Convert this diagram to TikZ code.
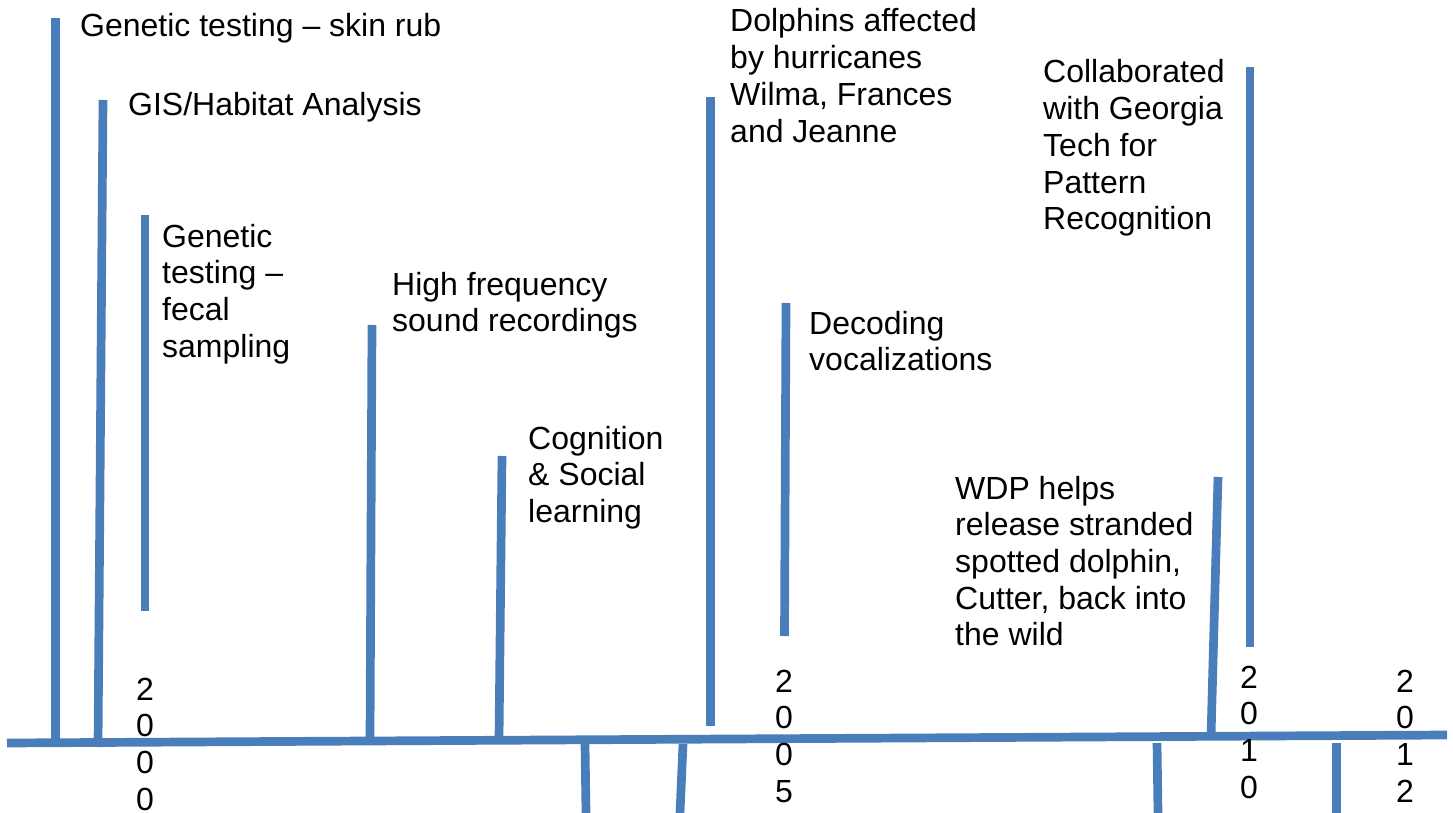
\documentclass[tikz,border=0pt]{standalone}
\usepackage{fontspec}
\setmainfont{Liberation Sans}
\definecolor{tlblue}{RGB}{74,126,187}
\begin{document}
\begin{tikzpicture}[x=1pt,y=-1pt,
  bar/.style={draw=tlblue,line width=8.7pt,line cap=butt},
  lbl/.style={anchor=base west,inner sep=0pt,align=left,font=\fontsize{32}{36.7}\selectfont},
  yr/.style={anchor=base,inner sep=0pt,align=center,font=\fontsize{32}{36.7}\selectfont}]
\useasboundingbox (0,0) rectangle (1453,813);
% axis
\coordinate (axL) at (7,743);
\coordinate (axR) at (1447,735);
\draw[bar] (axL) -- (axR);
% event bars above axis
\coordinate (t1) at (55.3,18);   \coordinate (b1) at (55.3,742);
\coordinate (t2) at (103,100);   \coordinate (b2) at (98,747);
\coordinate (t3) at (145,215);   \coordinate (b3) at (145,611);
\coordinate (t4) at (372,325);   \coordinate (b4) at (370,740);
\coordinate (t5) at (502,456);   \coordinate (b5) at (499,740);
\coordinate (t8) at (710.5,97);  \coordinate (b8) at (710.5,726);
\coordinate (t9) at (786,303);   \coordinate (b9) at (784.5,636);
\coordinate (t10) at (1218,477); \coordinate (b10) at (1211,737);
\coordinate (t11) at (1250,67);  \coordinate (b11) at (1250,647);
\foreach \i in {1,2,3,4,5,8,9,10,11} \draw[bar] (t\i) -- (b\i);
% bars below axis
\coordinate (t6) at (585,744);   \coordinate (b6) at (586,813);
\coordinate (t7) at (683,744);   \coordinate (b7) at (680,813);
\coordinate (t12) at (1157,743); \coordinate (b12) at (1158,813);
\coordinate (t13) at (1336.5,743); \coordinate (b13) at (1336.5,813);
\foreach \i in {6,7,12,13} \draw[bar] (t\i) -- (b\i);
% labels (anchor = baseline of the last line)
\node[lbl] (n1) at (80,37) {Genetic testing -- skin rub};
\node[lbl] (n2) at (128,116) {GIS/Habitat Analysis};
\node[lbl] (n3) at (162,357.1) {Genetic\\testing --\\fecal\\sampling};
\node[lbl] (n4) at (392,331.7) {High frequency\\sound recordings};
\node[lbl] (n5) at (528,522.4) {Cognition\\\& Social\\learning};
\node[lbl] (n6) at (730,142.1) {Dolphins affected\\by hurricanes\\Wilma, Frances\\and Jeanne};
\node[lbl] (n7) at (809,370.7) {Decoding\\vocalizations};
\node[lbl] (n8) at (955,645.8) {WDP helps\\release stranded\\spotted dolphin,\\Cutter, back into\\the wild};
\node[lbl] (n9) at (1043,229.8) {Collaborated\\with Georgia\\Tech for\\Pattern\\Recognition};
% years
\node[yr] (y1) at (145,810.1) {2\\0\\0\\0};
\node[yr] (y2) at (784,802.1) {2\\0\\0\\5};
\node[yr] (y3) at (1249,798.1) {2\\0\\1\\0};
\node[yr] (y4) at (1405,802.1) {2\\0\\1\\2};
\end{tikzpicture}
\end{document}
